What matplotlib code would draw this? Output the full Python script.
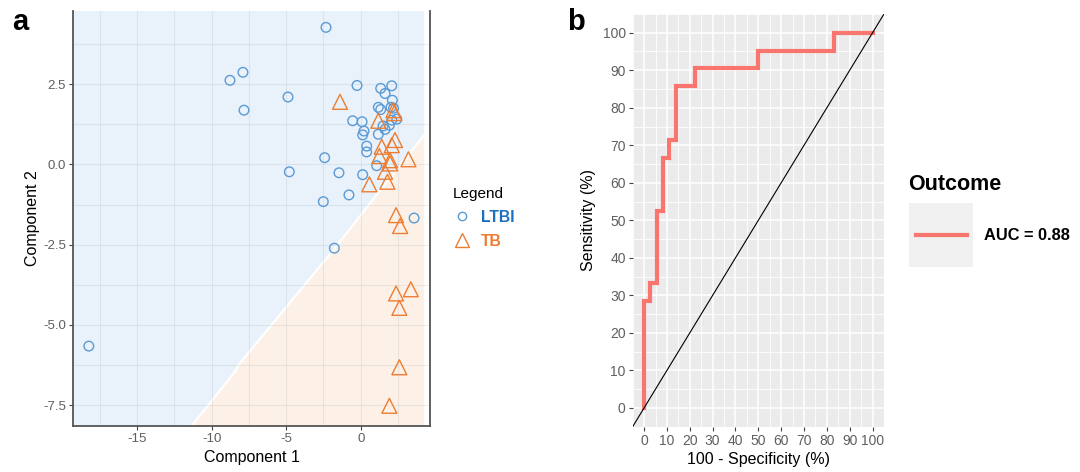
import matplotlib
matplotlib.use('Agg')
import matplotlib.pyplot as plt
import numpy as np
from matplotlib.lines import Line2D
from matplotlib.patches import Rectangle
from matplotlib.ticker import MultipleLocator, FixedLocator

plt.rcParams['font.family'] = ['Liberation Sans', 'DejaVu Sans']

# ---------------- data: panel a ----------------
ltbi_x = [-2.33, -8.77, -7.90, -7.83, -4.88, -18.24, -2.42, -4.79, -1.46, -2.51,
          -0.79, -1.77, 3.58, 0.13, 1.07,
          -0.25, 1.34, 2.08, 1.63, 2.12, 1.18, 1.34, 2.03, -0.54, 0.09,
          0.22, 0.13, 1.18, 1.63, 1.92, 2.42, 2.08, 0.40, 0.40, 2.20, 1.50]
ltbi_y = [4.27, 2.62, 2.87, 1.69, 2.10, -5.66, 0.21, -0.23, -0.26, -1.16,
          -0.95, -2.61, -1.67, -0.32, -0.04,
          2.46, 2.37, 2.45, 2.21, 2.00, 1.78, 1.71, 1.78, 1.36, 1.33,
          1.04, 0.92, 0.94, 1.09, 1.22, 1.41, 1.38, 0.57, 0.39, 1.75, 1.20]
tb_x = [-1.39, 2.19, 1.18, 2.30, 1.41, 2.08, 1.25, 1.97, 3.20, 1.97,
        1.63, 0.58, 1.79, 2.37, 2.64, 2.37, 3.36, 2.59, 2.59, 1.92, 2.25]
tb_y = [1.95, 1.69, 1.36, 0.76, 0.55, 0.60, 0.26, 0.13, 0.16, 0.03,
        -0.23, -0.62, -0.54, -1.58, -1.92, -4.02, -3.89, -4.47, -6.32, -7.52, 1.60]
boundary_x = [-11.34, -8.44, -8.21, -5.08, -1.84, 0.96, 4.25]
boundary_y = [-8.14, -6.46, -6.25, -4.49, -2.67, -1.01, 0.91]

# ---------------- data: panel b ----------------
roc_fpr = [0, 0, 2.78, 2.78, 5.56, 5.56, 8.33, 8.33, 11.11, 11.11, 13.89, 13.89,
           22.22, 22.22, 50.0, 50.0, 83.33, 83.33, 100]
roc_tpr = [0, 28.57, 28.57, 33.33, 33.33, 52.38, 52.38, 66.67, 66.67, 71.43, 71.43,
           85.71, 85.71, 90.48, 90.48, 95.24, 95.24, 100, 100]
auc_label = 'AUC = 0.88'

BLUE = '#5B9BD5'
ORANGE = '#ED7D31'
TICK_COL = '#5f5f5f'

fig = plt.figure(figsize=(10.8, 4.72), dpi=100)

# ================= panel a =================
axa = fig.add_axes([0.0676, 0.0981, 0.3306, 0.8786])
xlo, xhi = -19.3, 4.65
ylo, yhi = -8.14, 4.78
fill_right = 4.25
axa.set_xlim(xlo, xhi)
axa.set_ylim(ylo, yhi)
bx = np.array(boundary_x)
by = np.array(boundary_y)
blue_poly_x = np.concatenate([[xlo, xlo, fill_right], bx[::-1]])
blue_poly_y = np.concatenate([[ylo, yhi, yhi], by[::-1]])
orange_poly_x = np.concatenate([bx, [fill_right]])
orange_poly_y = np.concatenate([by, [ylo]])
axa.fill(blue_poly_x, blue_poly_y, color='#E9F1FA', lw=0, zorder=0.2)
axa.fill(orange_poly_x, orange_poly_y, color='#FDF1E7', lw=0, zorder=0.2)
axa.plot(bx, by, color='white', lw=1.6, zorder=0.3)

axa.xaxis.set_major_locator(FixedLocator([-15, -10, -5, 0]))
axa.xaxis.set_minor_locator(FixedLocator([-17.5, -12.5, -7.5, -2.5, 2.5]))
axa.yaxis.set_major_locator(FixedLocator([-7.5, -5.0, -2.5, 0.0, 2.5]))
axa.yaxis.set_minor_locator(FixedLocator([-6.25, -3.75, -1.25, 1.25, 3.75]))
axa.set_yticklabels(['-7.5', '-5.0', '-2.5', '0.0', '2.5'])
axa.set_xticklabels(['-15', '-10', '-5', '0'])
axa.set_axisbelow(True)
axa.grid(True, which='both', color='#A8B0B8', alpha=0.22, lw=0.8)
axa.tick_params(which='minor', length=0)
axa.tick_params(which='major', length=3, width=0.8, color='#444444',
                labelsize=9.5, labelcolor=TICK_COL, pad=2)
for s in ['left', 'bottom', 'right']:
    axa.spines[s].set_color('#555555')
    axa.spines[s].set_linewidth(1.3)
axa.spines['top'].set_visible(False)

axa.scatter(ltbi_x, ltbi_y, s=48, marker='o', facecolors='none', edgecolors=BLUE,
            linewidths=1.0, zorder=2)
axa.scatter(tb_x, tb_y, s=115, marker='^', facecolors='none', edgecolors=ORANGE,
            linewidths=1.0, zorder=2)
axa.set_xlabel('Component 1', fontsize=11.5, labelpad=4)
axa.set_ylabel('Component 2', fontsize=11.5, labelpad=2)

handles = [Line2D([], [], marker='o', ls='none', markerfacecolor='none',
                  markeredgecolor=BLUE, markersize=6, markeredgewidth=1.0),
           Line2D([], [], marker='^', ls='none', markerfacecolor='none',
                  markeredgecolor=ORANGE, markersize=10, markeredgewidth=1.0)]
leg = fig.legend(handles, ['LTBI', 'TB'], loc='upper left',
                 bbox_to_anchor=(446 / 1080, 1 - 181 / 472), frameon=False,
                 title='Legend', title_fontsize=11,
                 prop={'weight': 'bold', 'size': 11.3},
                 labelcolor=['#1F6FC0', ORANGE], handletextpad=0.6,
                 labelspacing=0.55, handlelength=1.2, borderaxespad=0)
leg._legend_box.align = 'left'

# ================= panel b =================
axb = fig.add_axes([0.5858, 0.096, 0.2327, 0.8744])
axb.set_facecolor('#EBEBEB')
axb.set_xlim(-5, 105)
axb.set_ylim(-5, 105)
axb.xaxis.set_major_locator(MultipleLocator(10))
axb.yaxis.set_major_locator(MultipleLocator(10))
axb.xaxis.set_minor_locator(MultipleLocator(5))
axb.yaxis.set_minor_locator(MultipleLocator(5))
axb.set_axisbelow(True)
axb.grid(True, which='major', color='white', lw=1.1)
axb.grid(True, which='minor', color='white', lw=0.6)
axb.tick_params(which='minor', length=0)
axb.tick_params(which='major', length=3, width=0.8, color='#444444',
                labelsize=10, labelcolor=TICK_COL, pad=2)
for s in axb.spines.values():
    s.set_visible(False)

axb.plot(roc_fpr, roc_tpr, color='#F8766D', lw=3.0, zorder=2, solid_joinstyle='miter')
axb.plot([-5, 105], [-5, 105], color='black', lw=0.8, zorder=3)
axb.set_xlabel('100 - Specificity (%)', fontsize=11.5, labelpad=3)
axb.set_ylabel('Sensitivity (%)', fontsize=11.5, labelpad=5)

# legend for panel b (manual, ggplot style)
fig.text(908 / 1080, 1 - 185 / 472, 'Outcome', fontsize=15.5, fontweight='bold',
         ha='left', va='center')
fig.add_artist(Rectangle((909 / 1080, 1 - 267 / 472), 64 / 1080, 64 / 472,
                         transform=fig.transFigure, facecolor='#F0F0F0',
                         edgecolor='none'))
fig.add_artist(Line2D([916 / 1080, 967 / 1080], [1 - 235 / 472, 1 - 235 / 472],
                      transform=fig.transFigure, color='#F8766D', lw=3.0))
fig.text(984 / 1080, 1 - 235 / 472, auc_label, fontsize=11.8, fontweight='bold',
         ha='left', va='center')

# panel letters
fig.text(12 / 1080, 1 - 30 / 472, 'a', fontsize=21, fontweight='bold', ha='left',
         va='baseline')
fig.text(567 / 1080, 1 - 30 / 472, 'b', fontsize=21, fontweight='bold', ha='left',
         va='baseline')

fig.savefig('out.png', dpi=100)
